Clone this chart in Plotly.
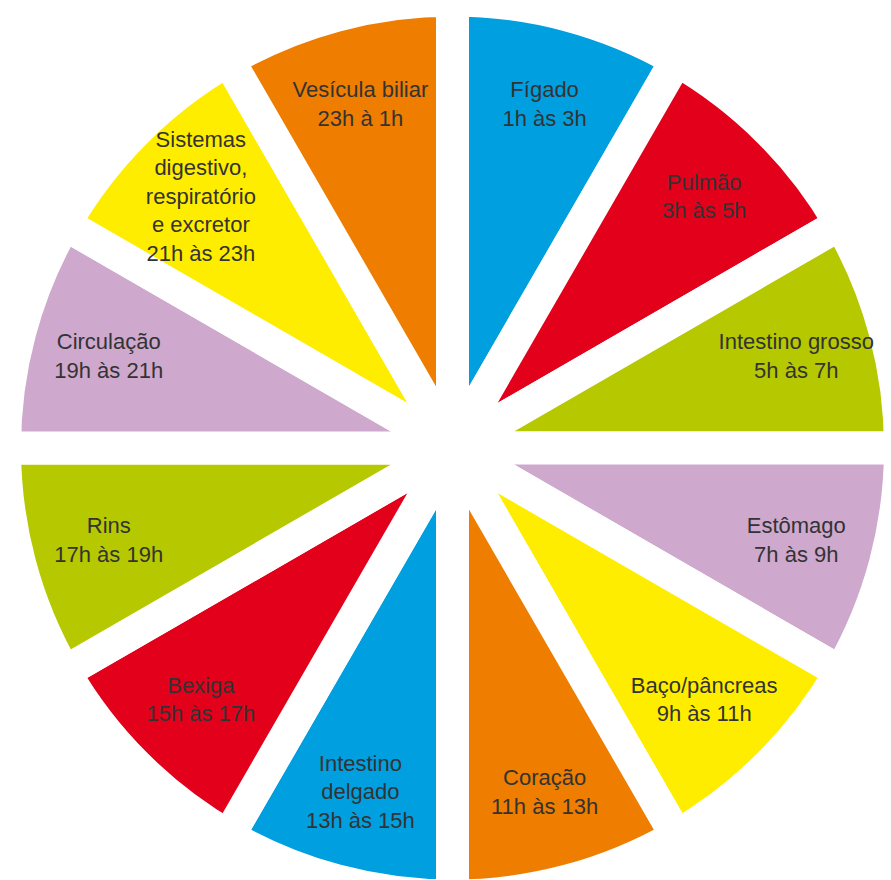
import plotly.graph_objects as go

# Órgãos em ordem horária, começando às 12 horas
organs = [
    "Fígado", "Pulmão", "Intestino grosso", "Estômago", "Baço/pâncreas",
    "Coração", "Intestino<br>delgado", "Bexiga", "Rins", "Circulação",
    "Sistemas<br>digestivo,<br>respiratório<br>e excretor", "Vesícula biliar",
]
periods = [
    "1h às 3h", "3h às 5h", "5h às 7h", "7h às 9h", "9h às 11h",
    "11h às 13h", "13h às 15h", "15h às 17h", "17h às 19h", "19h às 21h",
    "21h às 23h", "23h à 1h",
]
hours = [2, 2, 2, 2, 2, 2, 2, 2, 2, 2, 2, 2]
colors = [
    "#009fe0", "#e2001a", "#b5c800", "#cea8cd", "#ffed00", "#ee7d00",
    "#009fe0", "#e2001a", "#b5c800", "#cea8cd", "#ffed00", "#ee7d00",
]

labels = [f"{o}<br>{p}" for o, p in zip(organs, periods)]

fig = go.Figure(
    go.Pie(
        values=hours,
        text=labels,
        textinfo="text",
        textposition="inside",
        insidetextorientation="horizontal",
        sort=False,
        direction="clockwise",
        rotation=0,
        marker=dict(colors=colors, line=dict(color="white", width=33)),
        insidetextfont=dict(family="Liberation Sans, Arial, sans-serif", size=22, color="#333333"),
        hoverinfo="skip",
        showlegend=False,
    )
)

fig.update_layout(
    width=905,
    height=896,
    margin=dict(l=0, r=0, t=0, b=0),
    paper_bgcolor="white",
    plot_bgcolor="white",
)

fig.write_html("out.html")
